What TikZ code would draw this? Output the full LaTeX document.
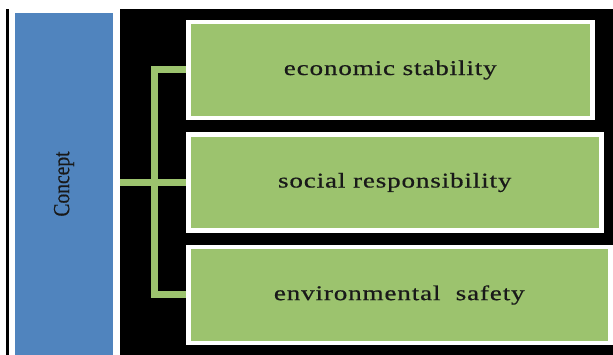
\documentclass[tikz,border=0pt]{standalone}
\usepackage{fontspec}
\usepackage{tikz}
\usetikzlibrary{positioning}
\setmainfont{Liberation Serif}
\newfontfamily\boxfont{Liberation Serif}[FakeStretch=1.29,LetterSpace=4,FakeBold=0.6]
\newfontfamily\rootfont{Liberation Serif}[FakeStretch=0.85,FakeBold=0.4]
\definecolor{conceptblue}{RGB}{80,132,190}
\definecolor{leafgreen}{RGB}{156,195,110}
\tikzset{
  leaf/.style={draw=white, line width=4.5pt, fill=leafgreen, inner sep=0pt,
    minimum height=96pt, anchor=west, text=black!90,
    font=\boxfont\fontsize{21}{25}\selectfont},
  branch/.style={draw=leafgreen, line width=7pt}
}

\begin{document}
\begin{tikzpicture}[x=1pt,y=-1pt]
  \useasboundingbox (0,0) rectangle (613,355);
  \fill[white] (0,0) rectangle (613,355);
  %thin rule on the far left
  \fill[black] (6,9) rectangle (9,355);
  %dark panel behind the branches
  \node[fill=black, inner sep=0pt, minimum width=493pt, minimum height=346pt] (panel) at (366.5,182) {};
  \node[fill=conceptblue, rotate=90, inner sep=0pt, minimum width=342pt, minimum height=98pt,
    text=black!90, font=\rootfont\fontsize{23}{26}\selectfont] (concept) at (64,184) {Concept};
  %the three pillars
  \node[leaf, minimum width=404pt] (eco) at (186,70) {economic stability};
  \node[leaf, minimum width=413pt] (soc) at (186,182.5) {social responsibility};
  \node[leaf, minimum width=422pt] (env) at (186,295) {environmental\ \ safety};
  %bracket
  \draw[branch] (eco.west) -- ++(-32,0) |- (env.west);
  \draw[branch] (panel.west |- soc.west) -- (soc.west);
\end{tikzpicture}
\end{document}
